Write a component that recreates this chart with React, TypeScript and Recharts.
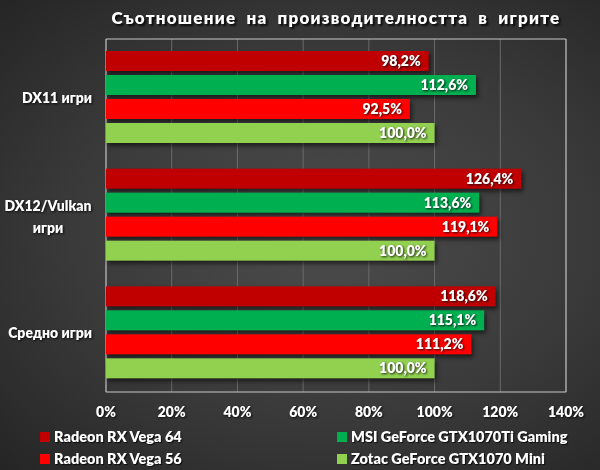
import React from 'react';
import {
  Bar,
  BarChart,
  CartesianGrid,
  LabelList,
  Legend,
  ReferenceArea,
  XAxis,
  YAxis,
} from 'recharts';

const categories = ['DX11 игри', 'DX12/Vulkan\nигри', 'Средно игри'];
const vega64 = [98.2, 126.4, 118.6];
const gtx1070ti = [112.6, 113.6, 115.1];
const vega56 = [92.5, 119.1, 111.2];
const gtx1070 = [100.0, 100.0, 100.0];
const xTicks = [0, 20, 40, 60, 80, 100, 120, 140];

const SERIES = [
  { key: 'vega64', name: 'Radeon RX Vega 64', color: '#C00000', values: vega64 },
  { key: 'gtx1070ti', name: 'MSI GeForce GTX1070Ti Gaming', color: '#00B050', values: gtx1070ti },
  { key: 'vega56', name: 'Radeon RX Vega 56', color: '#FF0000', values: vega56 },
  { key: 'gtx1070', name: 'Zotac GeForce GTX1070 Mini', color: '#92D050', values: gtx1070 },
];

const data = categories.map((name, i) => {
  const row: any = { name };
  SERIES.forEach((s) => {
    row[s.key] = s.values[i];
  });
  return row;
});

const FONT = 'Lato, "Open Sans", sans-serif';
const WEIGHT = 800;
const textShadow = 'drop-shadow(1px 1px 1px rgba(0,0,0,0.8))';

const CategoryTick = ({ x, y, payload }: any) => {
  const lines = String(payload.value).split('\n');
  if (lines.length === 1) {
    return (
      <text x={92} y={y + 5} textAnchor="end" fill="#fff" fontSize={14} fontWeight={WEIGHT} fontFamily={FONT} style={{ filter: textShadow }}>
        {lines[0]}
      </text>
    );
  }
  return (
    <g style={{ filter: textShadow }}>
      {lines.map((line, i) => (
        <text key={i} x={48} y={y - 5 + i * 22} textAnchor="middle" fill="#fff" fontSize={14} fontWeight={WEIGHT} fontFamily={FONT}>
          {line}
        </text>
      ))}
    </g>
  );
};

const ShadowBar = (props: any) => {
  const { x, y, width, height, fill } = props;
  return (
    <rect
      x={x}
      y={y}
      width={width}
      height={height}
      fill={fill}
      style={{ filter: 'drop-shadow(2px 3px 2px rgba(0,0,0,0.55))' }}
    />
  );
};

const LegendBox = () => (
  <div
    style={{
      display: 'grid',
      gridTemplateColumns: '297px 260px',
      rowGap: 5,
      paddingLeft: 40,
      paddingTop: 6,
      fontFamily: FONT,
      fontWeight: WEIGHT,
      fontSize: 14.5,
      color: '#fff',
      textShadow: '1px 1px 1px rgba(0,0,0,0.8)',
    }}
  >
    {SERIES.map((s) => (
      <div key={s.key} style={{ display: 'flex', alignItems: 'center', height: 17, whiteSpace: 'nowrap' }}>
        <span style={{ width: 10, height: 10, background: s.color, marginRight: 4, display: 'inline-block', flex: 'none' }} />
        {s.name}
      </div>
    ))}
  </div>
);

export default function App() {
  return (
    <div
      style={{
        position: 'fixed',
        left: 0,
        top: 0,
        width: 600,
        height: 470,
        background: 'radial-gradient(ellipse at 55% 50%, #4c4c4c 0%, #3a3a3a 55%, #252525 100%)',
      }}
    >
      <div
        style={{
          position: 'absolute',
          top: 7,
          left: 336 - 300,
          width: 600,
          textAlign: 'center',
          color: '#fff',
          fontFamily: FONT,
          fontWeight: WEIGHT,
          fontSize: 17,
          letterSpacing: 1.2,
          wordSpacing: 5,
          whiteSpace: 'nowrap',
          textShadow: '2px 2px 2px rgba(0,0,0,0.8)',
        }}
      >
        Съотношение на производителността в игрите
      </div>
      <BarChart
        width={600}
        height={470}
        data={data}
        layout="vertical"
        margin={{ top: 39, right: 34, bottom: 0, left: 0 }}
        barCategoryGap={12}
        barGap={4}
      >
        <CartesianGrid horizontal={false} stroke="#6a6a6a" />
        <XAxis
          type="number"
          domain={[0, 140]}
          ticks={xTicks}
          tickFormatter={(v) => `${v}%`}
          axisLine={false}
          tickLine={false}
          height={30}
          tick={{ fill: '#fff', fontSize: 14, fontWeight: WEIGHT, fontFamily: FONT, dy: 7, style: { filter: textShadow } } as any}
        />
        <YAxis
          type="category"
          dataKey="name"
          width={106}
          axisLine={false}
          tickLine={false}
          tick={<CategoryTick />}
        />
        <ReferenceArea x1={0} x2={140} fill="none" stroke="#c8c8c8" strokeWidth={1} ifOverflow="visible" />
        {SERIES.map((s) => (
          <Bar key={s.key} dataKey={s.key} name={s.name} fill={s.color} shape={<ShadowBar />} isAnimationActive={false}>
            <LabelList
              dataKey={s.key}
              position="insideRight"
              offset={8}
              formatter={(v: any) => `${Number(v).toFixed(1).replace('.', ',')}%`}
              fill="#fff"
              fontSize={14}
              fontWeight={WEIGHT}
              fontFamily={FONT}
              style={{ filter: textShadow }}
            />
          </Bar>
        ))}
        <Legend verticalAlign="bottom" height={48} content={<LegendBox />} />
      </BarChart>
    </div>
  );
}
